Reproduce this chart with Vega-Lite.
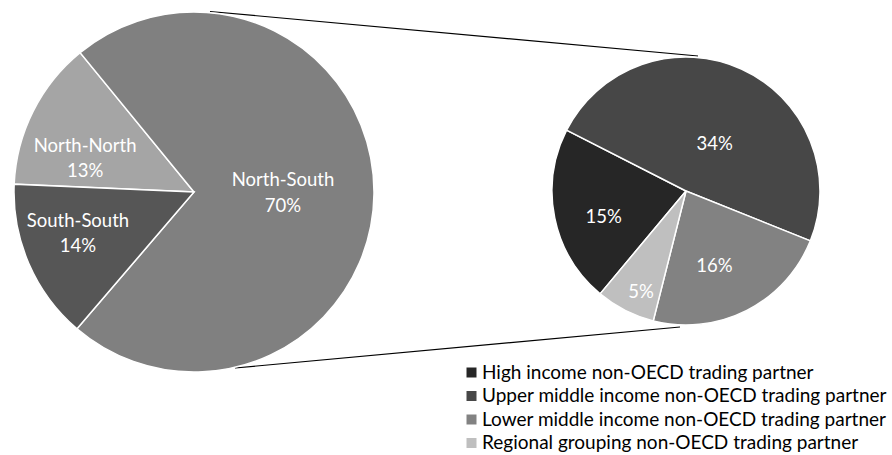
{
  "$schema": "https://vega.github.io/schema/vega-lite/v6.json",
  "width": 892,
  "height": 455,
  "autosize": {"type": "fit", "contains": "padding"},
  "padding": 0,
  "background": "white",
  "config": {"view": {"stroke": null}, "font": "Lato"},
  "datasets": {
    "main": [
      {"region": "North-North", "value": 13},
      {"region": "North-South", "value": 70},
      {"region": "South-South", "value": 14}
    ],
    "detail": [
      {"partner": "High income non-OECD trading partner", "value": 15},
      {"partner": "Upper middle income non-OECD trading partner", "value": 34},
      {"partner": "Lower middle income non-OECD trading partner", "value": 16},
      {"partner": "Regional grouping non-OECD trading partner", "value": 5}
    ],
    "connectors": [
      {"x": 210, "y": 11.5, "x2": 698, "y2": 56},
      {"x": 235, "y": 368, "x2": 680, "y2": 327}
    ]
  },
  "resolve": {"scale": {"theta": "independent", "color": "independent"}},
  "layer": [
    {
      "data": {"name": "connectors"},
      "mark": {"type": "rule", "stroke": "black", "strokeWidth": 1.2},
      "encoding": {
        "x": {"field": "x", "type": "quantitative", "scale": {"domain": [0, 892], "nice": false, "zero": false}, "axis": null},
        "y": {"field": "y", "type": "quantitative", "scale": {"domain": [0, 455], "nice": false, "zero": false, "reverse": true}, "axis": null},
        "x2": {"field": "x2"},
        "y2": {"field": "y2"}
      }
    },
    {
      "data": {"name": "main"},
      "transform": [
        {"calculate": "indexof(['North-North','North-South','South-South'], datum.region)", "as": "ord"},
        {"stack": "value", "groupby": [], "sort": [{"field": "ord", "order": "ascending"}], "as": ["v0", "v1"]},
        {"calculate": "(datum.v0 + datum.v1) / 2", "as": "mid"},
        {"calculate": "[datum.region, datum.value + '%']", "as": "label"}
      ],
      "encoding": {
        "x": {"datum": 194, "type": "quantitative", "stack": null, "scale": {"domain": [0, 892], "nice": false, "zero": false}, "axis": null},
        "y": {"datum": 192, "type": "quantitative", "stack": null, "scale": {"domain": [0, 455], "nice": false, "zero": false, "reverse": true}, "axis": null}
      },
      "layer": [
        {
          "mark": {"type": "arc", "outerRadius": 180, "stroke": "white", "strokeWidth": 1.5},
          "encoding": {
            "theta": {"field": "v0", "type": "quantitative", "stack": null, "scale": {"domain": [0, 97], "nice": false, "range": [4.756, 11.0392]}},
            "theta2": {"field": "v1"},
            "color": {
              "field": "region", "type": "nominal",
              "scale": {"domain": ["North-North", "North-South", "South-South"], "range": ["#a5a5a5", "#808080", "#565656"]},
              "legend": null
            }
          }
        },
        {
          "transform": [{"filter": "datum.region == 'North-South'"}],
          "mark": {"type": "text", "radius": 89, "dy": -12.5, "color": "white", "fontSize": 18.5, "lineHeight": 25.5, "align": "center", "baseline": "middle"},
          "encoding": {"theta": {"field": "mid", "type": "quantitative", "stack": null}, "text": {"field": "label"}}
        },
        {
          "transform": [{"filter": "datum.region == 'North-North'"}],
          "mark": {"type": "text", "radius": 114, "dx": -7, "dy": 5, "color": "white", "fontSize": 18.5, "lineHeight": 25.5, "align": "center", "baseline": "middle"},
          "encoding": {"theta": {"field": "mid", "type": "quantitative", "stack": null}, "text": {"field": "label"}}
        },
        {
          "transform": [{"filter": "datum.region == 'South-South'"}],
          "mark": {"type": "text", "radius": 120, "dx": -6, "dy": -19, "color": "white", "fontSize": 18.5, "lineHeight": 25.5, "align": "center", "baseline": "middle"},
          "encoding": {"theta": {"field": "mid", "type": "quantitative", "stack": null}, "text": {"field": "label"}}
        }
      ]
    },
    {
      "data": {"name": "detail"},
      "transform": [
        {"calculate": "indexof(['Upper middle income non-OECD trading partner','Lower middle income non-OECD trading partner','Regional grouping non-OECD trading partner','High income non-OECD trading partner'], datum.partner)", "as": "ord"},
        {"stack": "value", "groupby": [], "sort": [{"field": "ord", "order": "ascending"}], "as": ["v0", "v1"]},
        {"calculate": "(datum.v0 + datum.v1) / 2", "as": "mid"},
        {"calculate": "datum.value + '%'", "as": "label"}
      ],
      "encoding": {
        "x": {"datum": 686, "type": "quantitative", "stack": null, "scale": {"domain": [0, 892], "nice": false, "zero": false}, "axis": null},
        "y": {"datum": 191, "type": "quantitative", "stack": null, "scale": {"domain": [0, 455], "nice": false, "zero": false, "reverse": true}, "axis": null}
      },
      "layer": [
        {
          "mark": {"type": "arc", "outerRadius": 134, "stroke": "white", "strokeWidth": 1.5},
          "encoding": {
            "theta": {"field": "v0", "type": "quantitative", "stack": null, "scale": {"domain": [0, 70], "nice": false, "range": [5.1836, 11.4668]}},
            "theta2": {"field": "v1"},
            "color": {
              "field": "partner", "type": "nominal",
              "scale": {
                "domain": ["High income non-OECD trading partner", "Upper middle income non-OECD trading partner", "Lower middle income non-OECD trading partner", "Regional grouping non-OECD trading partner"],
                "range": ["#262626", "#474747", "#828282", "#bfbfbf"]
              },
              "legend": {
                "orient": "none", "legendX": 462, "legendY": 363, "title": null,
                "symbolType": "square", "symbolSize": 100, "symbolStrokeWidth": 0,
                "labelFontSize": 19, "labelColor": "black", "labelLimit": 0, "labelFont": "Lato",
                "rowPadding": 3.5, "labelOffset": 1
              }
            }
          }
        },
        {
          "transform": [{"filter": "datum.ord == 0"}],
          "mark": {"type": "text", "radius": 55, "dx": 6, "dy": 3, "color": "white", "fontSize": 18.5, "align": "center", "baseline": "middle"},
          "encoding": {"theta": {"field": "mid", "type": "quantitative", "stack": null}, "text": {"field": "label"}}
        },
        {
          "transform": [{"filter": "datum.ord == 1"}],
          "mark": {"type": "text", "radius": 80, "dx": -8, "dy": 4, "color": "white", "fontSize": 18.5, "align": "center", "baseline": "middle"},
          "encoding": {"theta": {"field": "mid", "type": "quantitative", "stack": null}, "text": {"field": "label"}}
        },
        {
          "transform": [{"filter": "datum.ord == 2"}],
          "mark": {"type": "text", "radius": 110, "dx": 5, "dy": 3, "color": "white", "fontSize": 18.5, "align": "center", "baseline": "middle"},
          "encoding": {"theta": {"field": "mid", "type": "quantitative", "stack": null}, "text": {"field": "label"}}
        },
        {
          "transform": [{"filter": "datum.ord == 3"}],
          "mark": {"type": "text", "radius": 86, "dx": 2, "dy": 9, "color": "white", "fontSize": 18.5, "align": "center", "baseline": "middle"},
          "encoding": {"theta": {"field": "mid", "type": "quantitative", "stack": null}, "text": {"field": "label"}}
        }
      ]
    }
  ]
}
